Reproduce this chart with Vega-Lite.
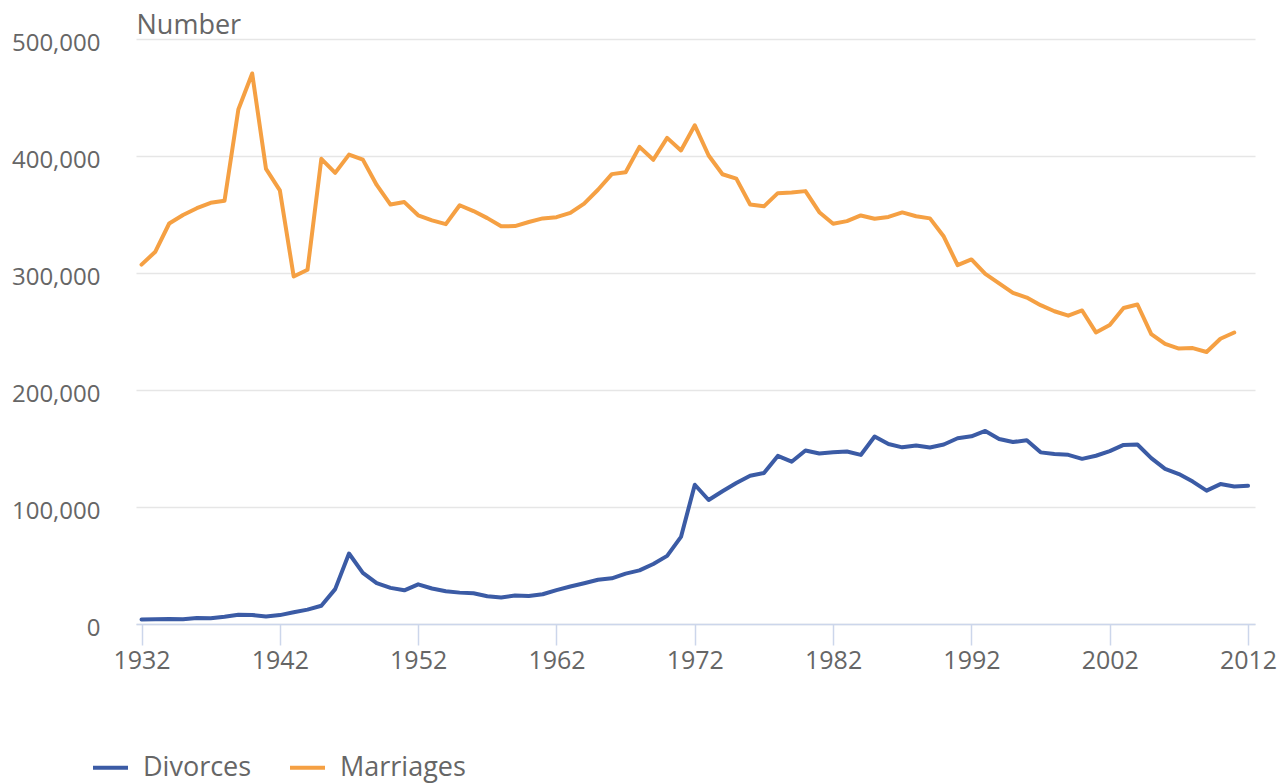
{
  "$schema": "https://vega.github.io/schema/vega-lite/v6.json",
  "autosize": {"type": "none"},
  "width": 1119,
  "height": 585,
  "padding": {"left": 136, "top": 39, "right": 29, "bottom": 159},
  "background": "white",
  "config": {
    "view": {"stroke": null},
    "font": "Open Sans"
  },
  "data": {
    "values": [
      {"year": 1932, "series": "Marriages", "value": 307184},
      {"year": 1933, "series": "Marriages", "value": 318191},
      {"year": 1934, "series": "Marriages", "value": 342307},
      {"year": 1935, "series": "Marriages", "value": 349536},
      {"year": 1936, "series": "Marriages", "value": 355366},
      {"year": 1937, "series": "Marriages", "value": 359986},
      {"year": 1938, "series": "Marriages", "value": 361768},
      {"year": 1939, "series": "Marriages", "value": 439694},
      {"year": 1940, "series": "Marriages", "value": 470549},
      {"year": 1941, "series": "Marriages", "value": 388921},
      {"year": 1942, "series": "Marriages", "value": 370664},
      {"year": 1943, "series": "Marriages", "value": 296980},
      {"year": 1944, "series": "Marriages", "value": 302714},
      {"year": 1945, "series": "Marriages", "value": 397626},
      {"year": 1946, "series": "Marriages", "value": 385606},
      {"year": 1947, "series": "Marriages", "value": 401210},
      {"year": 1948, "series": "Marriages", "value": 396891},
      {"year": 1949, "series": "Marriages", "value": 375264},
      {"year": 1950, "series": "Marriages", "value": 358490},
      {"year": 1951, "series": "Marriages", "value": 360624},
      {"year": 1952, "series": "Marriages", "value": 349308},
      {"year": 1953, "series": "Marriages", "value": 344996},
      {"year": 1954, "series": "Marriages", "value": 341731},
      {"year": 1955, "series": "Marriages", "value": 357918},
      {"year": 1956, "series": "Marriages", "value": 352944},
      {"year": 1957, "series": "Marriages", "value": 346903},
      {"year": 1958, "series": "Marriages", "value": 339913},
      {"year": 1959, "series": "Marriages", "value": 340126},
      {"year": 1960, "series": "Marriages", "value": 343614},
      {"year": 1961, "series": "Marriages", "value": 346678},
      {"year": 1962, "series": "Marriages", "value": 347732},
      {"year": 1963, "series": "Marriages", "value": 351329},
      {"year": 1964, "series": "Marriages", "value": 359307},
      {"year": 1965, "series": "Marriages", "value": 371127},
      {"year": 1966, "series": "Marriages", "value": 384497},
      {"year": 1967, "series": "Marriages", "value": 386052},
      {"year": 1968, "series": "Marriages", "value": 407822},
      {"year": 1969, "series": "Marriages", "value": 396746},
      {"year": 1970, "series": "Marriages", "value": 415487},
      {"year": 1971, "series": "Marriages", "value": 404737},
      {"year": 1972, "series": "Marriages", "value": 426241},
      {"year": 1973, "series": "Marriages", "value": 400435},
      {"year": 1974, "series": "Marriages", "value": 384389},
      {"year": 1975, "series": "Marriages", "value": 380620},
      {"year": 1976, "series": "Marriages", "value": 358567},
      {"year": 1977, "series": "Marriages", "value": 356954},
      {"year": 1978, "series": "Marriages", "value": 368258},
      {"year": 1979, "series": "Marriages", "value": 368853},
      {"year": 1980, "series": "Marriages", "value": 369985},
      {"year": 1981, "series": "Marriages", "value": 351973},
      {"year": 1982, "series": "Marriages", "value": 342166},
      {"year": 1983, "series": "Marriages", "value": 344334},
      {"year": 1984, "series": "Marriages", "value": 349186},
      {"year": 1985, "series": "Marriages", "value": 346389},
      {"year": 1986, "series": "Marriages", "value": 347924},
      {"year": 1987, "series": "Marriages", "value": 351761},
      {"year": 1988, "series": "Marriages", "value": 348492},
      {"year": 1989, "series": "Marriages", "value": 346697},
      {"year": 1990, "series": "Marriages", "value": 331150},
      {"year": 1991, "series": "Marriages", "value": 306756},
      {"year": 1992, "series": "Marriages", "value": 311564},
      {"year": 1993, "series": "Marriages", "value": 299197},
      {"year": 1994, "series": "Marriages", "value": 291069},
      {"year": 1995, "series": "Marriages", "value": 283012},
      {"year": 1996, "series": "Marriages", "value": 278975},
      {"year": 1997, "series": "Marriages", "value": 272536},
      {"year": 1998, "series": "Marriages", "value": 267303},
      {"year": 1999, "series": "Marriages", "value": 263515},
      {"year": 2000, "series": "Marriages", "value": 267961},
      {"year": 2001, "series": "Marriages", "value": 249227},
      {"year": 2002, "series": "Marriages", "value": 255596},
      {"year": 2003, "series": "Marriages", "value": 270109},
      {"year": 2004, "series": "Marriages", "value": 273069},
      {"year": 2005, "series": "Marriages", "value": 247805},
      {"year": 2006, "series": "Marriages", "value": 239454},
      {"year": 2007, "series": "Marriages", "value": 235367},
      {"year": 2008, "series": "Marriages", "value": 235794},
      {"year": 2009, "series": "Marriages", "value": 232443},
      {"year": 2010, "series": "Marriages", "value": 243808},
      {"year": 2011, "series": "Marriages", "value": 249133},
      {"year": 1932, "series": "Divorces", "value": 3894},
      {"year": 1933, "series": "Divorces", "value": 4042},
      {"year": 1934, "series": "Divorces", "value": 4287},
      {"year": 1935, "series": "Divorces", "value": 4069},
      {"year": 1936, "series": "Divorces", "value": 5105},
      {"year": 1937, "series": "Divorces", "value": 4886},
      {"year": 1938, "series": "Divorces", "value": 6250},
      {"year": 1939, "series": "Divorces", "value": 7955},
      {"year": 1940, "series": "Divorces", "value": 7755},
      {"year": 1941, "series": "Divorces", "value": 6368},
      {"year": 1942, "series": "Divorces", "value": 7618},
      {"year": 1943, "series": "Divorces", "value": 9970},
      {"year": 1944, "series": "Divorces", "value": 12314},
      {"year": 1945, "series": "Divorces", "value": 15634},
      {"year": 1946, "series": "Divorces", "value": 29829},
      {"year": 1947, "series": "Divorces", "value": 60254},
      {"year": 1948, "series": "Divorces", "value": 43698},
      {"year": 1949, "series": "Divorces", "value": 34856},
      {"year": 1950, "series": "Divorces", "value": 30870},
      {"year": 1951, "series": "Divorces", "value": 28767},
      {"year": 1952, "series": "Divorces", "value": 33922},
      {"year": 1953, "series": "Divorces", "value": 30326},
      {"year": 1954, "series": "Divorces", "value": 28027},
      {"year": 1955, "series": "Divorces", "value": 26816},
      {"year": 1956, "series": "Divorces", "value": 26265},
      {"year": 1957, "series": "Divorces", "value": 23785},
      {"year": 1958, "series": "Divorces", "value": 22654},
      {"year": 1959, "series": "Divorces", "value": 24286},
      {"year": 1960, "series": "Divorces", "value": 23868},
      {"year": 1961, "series": "Divorces", "value": 25394},
      {"year": 1962, "series": "Divorces", "value": 28935},
      {"year": 1963, "series": "Divorces", "value": 32052},
      {"year": 1964, "series": "Divorces", "value": 34868},
      {"year": 1965, "series": "Divorces", "value": 37785},
      {"year": 1966, "series": "Divorces", "value": 39067},
      {"year": 1967, "series": "Divorces", "value": 43093},
      {"year": 1968, "series": "Divorces", "value": 45794},
      {"year": 1969, "series": "Divorces", "value": 51310},
      {"year": 1970, "series": "Divorces", "value": 58239},
      {"year": 1971, "series": "Divorces", "value": 74437},
      {"year": 1972, "series": "Divorces", "value": 119025},
      {"year": 1973, "series": "Divorces", "value": 106003},
      {"year": 1974, "series": "Divorces", "value": 113500},
      {"year": 1975, "series": "Divorces", "value": 120522},
      {"year": 1976, "series": "Divorces", "value": 126694},
      {"year": 1977, "series": "Divorces", "value": 129053},
      {"year": 1978, "series": "Divorces", "value": 143667},
      {"year": 1979, "series": "Divorces", "value": 138706},
      {"year": 1980, "series": "Divorces", "value": 148301},
      {"year": 1981, "series": "Divorces", "value": 145713},
      {"year": 1982, "series": "Divorces", "value": 146698},
      {"year": 1983, "series": "Divorces", "value": 147479},
      {"year": 1984, "series": "Divorces", "value": 144501},
      {"year": 1985, "series": "Divorces", "value": 160300},
      {"year": 1986, "series": "Divorces", "value": 153903},
      {"year": 1987, "series": "Divorces", "value": 151007},
      {"year": 1988, "series": "Divorces", "value": 152633},
      {"year": 1989, "series": "Divorces", "value": 150872},
      {"year": 1990, "series": "Divorces", "value": 153386},
      {"year": 1991, "series": "Divorces", "value": 158745},
      {"year": 1992, "series": "Divorces", "value": 160385},
      {"year": 1993, "series": "Divorces", "value": 165018},
      {"year": 1994, "series": "Divorces", "value": 158175},
      {"year": 1995, "series": "Divorces", "value": 155499},
      {"year": 1996, "series": "Divorces", "value": 157107},
      {"year": 1997, "series": "Divorces", "value": 146689},
      {"year": 1998, "series": "Divorces", "value": 145214},
      {"year": 1999, "series": "Divorces", "value": 144556},
      {"year": 2000, "series": "Divorces", "value": 141135},
      {"year": 2001, "series": "Divorces", "value": 143818},
      {"year": 2002, "series": "Divorces", "value": 147735},
      {"year": 2003, "series": "Divorces", "value": 153065},
      {"year": 2004, "series": "Divorces", "value": 153399},
      {"year": 2005, "series": "Divorces", "value": 141750},
      {"year": 2006, "series": "Divorces", "value": 132562},
      {"year": 2007, "series": "Divorces", "value": 128131},
      {"year": 2008, "series": "Divorces", "value": 121708},
      {"year": 2009, "series": "Divorces", "value": 113949},
      {"year": 2010, "series": "Divorces", "value": 119589},
      {"year": 2011, "series": "Divorces", "value": 117558},
      {"year": 2012, "series": "Divorces", "value": 118140}
    ]
  },
  "mark": {"type": "line", "strokeWidth": 4, "strokeJoin": "round", "strokeCap": "round"},
  "encoding": {
    "x": {
      "field": "year",
      "type": "quantitative",
      "scale": {"domain": [1931.6, 2012.5], "nice": false, "zero": false},
      "axis": {
        "title": null,
        "values": [1932, 1942, 1952, 1962, 1972, 1982, 1992, 2002, 2012],
        "format": "d",
        "grid": false,
        "domainColor": "#ccd6eb",
        "domainWidth": 1.5,
        "tickColor": "#ccd6eb",
        "tickWidth": 1.5,
        "tickSize": 21,
        "labelPadding": 23,
        "labelBaseline": "alphabetic",
        "labelFontSize": 25,
        "labelColor": "#666666",
        "labelFont": "Open Sans",
        "labelOverlap": false,
        "labelFlush": false
      }
    },
    "y": {
      "field": "value",
      "type": "quantitative",
      "scale": {"domain": [0, 500000], "nice": false},
      "axis": {
        "title": "Number",
        "titleAngle": 0,
        "titleX": 0,
        "titleY": -6,
        "titleAlign": "left",
        "titleBaseline": "alphabetic",
        "titleFontSize": 27,
        "titleFontWeight": "normal",
        "titleColor": "#666666",
        "titleFont": "Open Sans",
        "values": [0, 100000, 200000, 300000, 400000, 500000],
        "format": ",.0f",
        "grid": true,
        "gridColor": "#e6e6e6",
        "gridWidth": 1.5,
        "domain": false,
        "ticks": false,
        "labelPadding": 36,
        "labelBaseline": "alphabetic",
        "labelOffset": 11,
        "labelFontSize": 24,
        "labelColor": "#666666",
        "labelFont": "Open Sans"
      }
    },
    "color": {
      "field": "series",
      "type": "nominal",
      "scale": {"domain": ["Divorces", "Marriages"], "range": ["#3b5ba5", "#f5a043"]},
      "legend": {
        "title": null,
        "orient": "none",
        "direction": "horizontal",
        "legendX": -45,
        "legendY": 709,
        "symbolType": "stroke",
        "symbolSize": 1225,
        "symbolStrokeWidth": 4,
        "labelFontSize": 27,
        "labelColor": "#666666",
        "labelFont": "Open Sans",
        "labelOffset": 13,
        "columnPadding": 30,
        "labelLimit": 300
      }
    }
  }
}
